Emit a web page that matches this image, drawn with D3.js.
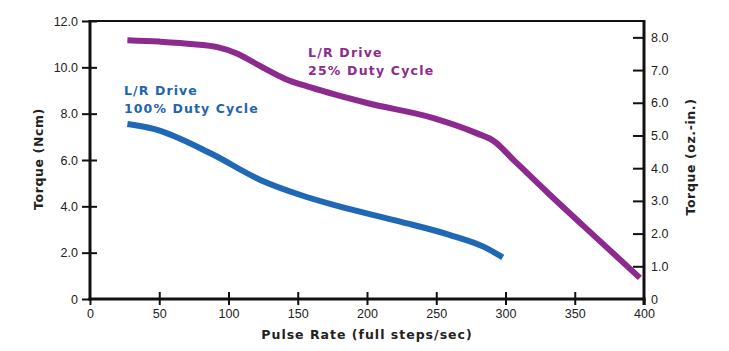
<!DOCTYPE html>
<html>
<head>
<meta charset="utf-8">
<script src="https://cdn.jsdelivr.net/npm/d3@7"></script>
<style>
  body { margin: 0; background: #fff; }
  svg { display: block; }
  .tick-label { font-family: "Liberation Sans", Arial, sans-serif; font-size: 12.5px; fill: #222; }
  .title { font-family: "DejaVu Sans", Verdana, sans-serif; font-size: 12.5px; font-weight: bold; fill: #222; }
  .series-label { font-family: "DejaVu Sans", Verdana, sans-serif; font-size: 12.5px; font-weight: bold; }
</style>
</head>
<body>
<svg id="chart" width="729" height="351"></svg>
<script>
// pulse rate (full steps/sec) vs torque (Ncm)
const duty25 = [
  [27, 11.17], [50, 11.11], [75, 11.0], [92, 10.87], [106, 10.6], [123, 10.05],
  [141, 9.5], [160, 9.12], [200, 8.46], [248, 7.81], [279, 7.16],
  [292, 6.8], [305, 6.05], [332, 4.5], [368, 2.51], [397, 0.91]
];
const duty100 = [
  [27, 7.55], [46, 7.34], [87, 6.29], [123, 5.14], [152, 4.49],
  [176, 4.06], [224, 3.34], [260, 2.76], [284, 2.26], [298, 1.8]
];
const xTicks = [0, 50, 100, 150, 200, 250, 300, 350, 400];
const ncmTicks = [0, 2, 4, 6, 8, 10, 12];
const ozTicks = [0, 1, 2, 3, 4, 5, 6, 7, 8];

const svg = d3.select('#chart');
const mLeft = 90, mRight = 644, mTop = 21, mBottom = 299;

const x = d3.scaleLinear().domain([0, 400]).range([mLeft, mRight]);
const yNcm = d3.scaleLinear().domain([0, 12]).range([mBottom, mTop]);
const yOz = d3.scaleLinear().domain([0, 8.5]).range([mBottom, mTop]);

const fmt = function(d) { return d === 0 ? "0" : d3.format(".1f")(d); };

// top border
svg.append('line')
  .attr('x1', mLeft).attr('x2', mRight).attr('y1', mTop).attr('y2', mTop)
  .attr('stroke', '#111').attr('stroke-width', 2);

// left axis
const gl = svg.append('g').attr('transform', 'translate(' + mLeft + ',0)')
  .call(d3.axisLeft(yNcm).tickValues(ncmTicks).tickFormat(fmt).tickSize(8).tickSizeOuter(0).tickPadding(4));
// bottom axis
const gb = svg.append('g').attr('transform', 'translate(0,' + mBottom + ')')
  .call(d3.axisBottom(x).tickValues(xTicks).tickSize(6).tickSizeOuter(0).tickPadding(4));
// right axis (ticks point inward)
const gr = svg.append('g').attr('transform', 'translate(' + mRight + ',0)')
  .call(d3.axisRight(yOz).tickValues(ozTicks).tickFormat(fmt).tickSize(-11).tickSizeOuter(0).tickPadding(18));

[gl, gb, gr].forEach(function(g) {
  g.select('.domain').attr('stroke', '#111').attr('stroke-width', 3);
  g.selectAll('.tick line').attr('stroke', '#111').attr('stroke-width', 2);
  g.selectAll('.tick text').attr('class', 'tick-label').attr('fill', null);
});
// left ticks cross the axis
gl.selectAll('.tick line').attr('x1', 7);
gl.selectAll('.tick').filter(function(d) { return d === 0; }).select('line').attr('x1', 0);
// bottom ticks cross the axis, except the ends
gb.selectAll('.tick line').attr('y1', -7);
gb.selectAll('.tick').filter(function(d) { return d === 0 || d === 400; }).select('line').attr('y1', 0);
gr.selectAll('.tick').filter(function(d) { return d === 0; }).select('line').remove();
gr.selectAll('.tick text').attr('x', 7);
gl.select('.domain').attr('d', 'M0,' + (mBottom + 1.5) + 'V' + (mTop - 1));
gr.select('.domain').attr('d', 'M0,' + (mBottom + 6) + 'V' + (mTop - 1));
gb.select('.domain').attr('d', 'M' + (mLeft - 1.5) + ',0H' + (mRight + 1.5));

// curves
const line = d3.line()
  .x(function(d) { return x(d[0]); })
  .y(function(d) { return yNcm(d[1]); })
  .curve(d3.curveMonotoneX);

svg.append('path').datum(duty25)
  .attr('d', line).attr('fill', 'none')
  .attr('stroke', '#8D2A8F').attr('stroke-width', 6);
svg.append('path').datum(duty100)
  .attr('d', line).attr('fill', 'none')
  .attr('stroke', '#1F68B6').attr('stroke-width', 6);

// series labels
const l25 = svg.append('text').attr('class', 'series-label').attr('fill', '#8D2A8F')
  .attr('x', 308).attr('y', 57).style('letter-spacing', '1.2px');
l25.append('tspan').attr('x', 308).text('L/R Drive');
l25.append('tspan').attr('x', 308).attr('dy', 18).text('25% Duty Cycle');

const l100 = svg.append('text').attr('class', 'series-label').attr('fill', '#1F64B0')
  .attr('x', 124).attr('y', 95).style('letter-spacing', '1.1px');
l100.append('tspan').attr('x', 124).text('L/R Drive');
l100.append('tspan').attr('x', 124).attr('dy', 18).text('100% Duty Cycle');

// axis titles
svg.append('text').attr('class', 'title')
  .attr('text-anchor', 'middle')
  .attr('x', (mLeft + mRight) / 2).attr('y', 339)
  .style('letter-spacing', '1px')
  .text('Pulse Rate (full steps/sec)');

svg.append('text').attr('class', 'title')
  .attr('text-anchor', 'middle')
  .attr('transform', 'translate(43,159) rotate(-90)')
  .style('letter-spacing', '0.6px')
  .text('Torque  (Ncm)');

svg.append('text').attr('class', 'title')
  .attr('text-anchor', 'middle')
  .attr('transform', 'translate(695,157) rotate(-90)')
  .style('letter-spacing', '0.6px')
  .text('Torque  (oz.-in.)');
</script>
</body>
</html>
